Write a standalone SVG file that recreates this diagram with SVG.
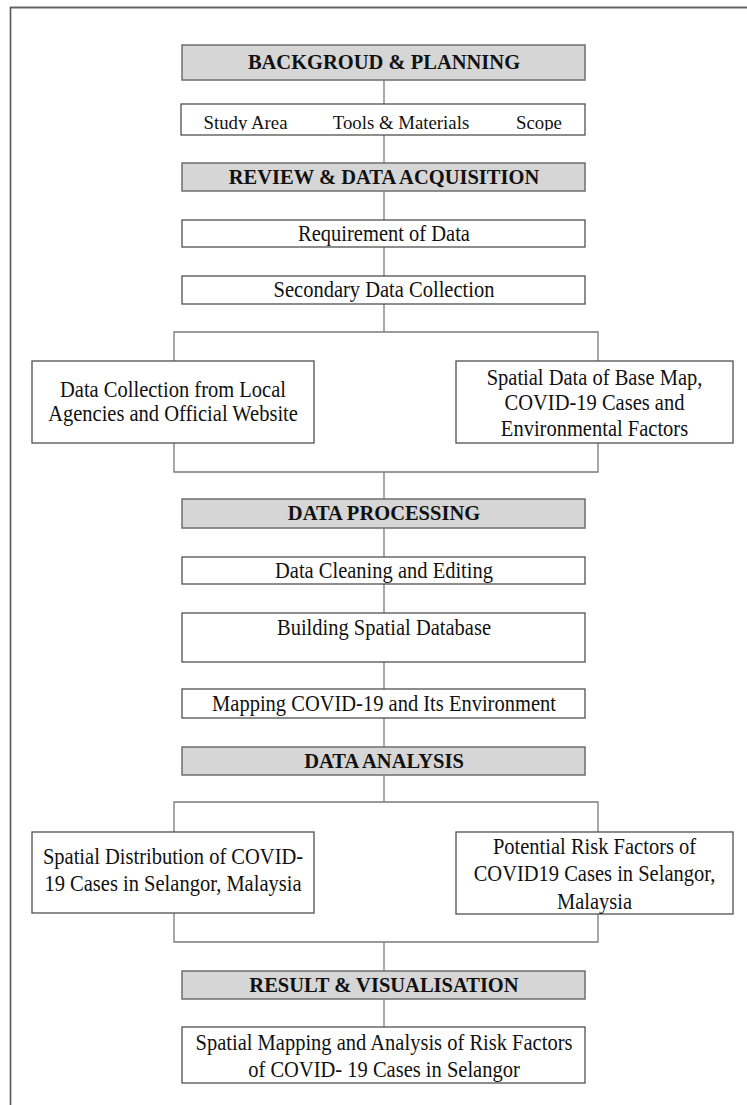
<svg xmlns="http://www.w3.org/2000/svg" width="747" height="1105" viewBox="0 0 747 1105">
<defs>
<style>
.hdr{fill:#d6d6d6;stroke:#6e6e6e;stroke-width:1.5}
.box{fill:#ffffff;stroke:#505050;stroke-width:1.3}
.ht{font-family:"Liberation Serif","Times New Roman",serif;font-weight:bold;font-size:20.5px;fill:#111;text-anchor:middle}
.bt{font-family:"Liberation Serif","Times New Roman",serif;font-size:22.3px;fill:#111;text-anchor:middle}
.st{font-family:"Liberation Serif","Times New Roman",serif;font-size:18.8px;fill:#111;text-anchor:middle}
.ln{stroke:#7a7a7a;stroke-width:1.3;fill:none}
</style>
<clipPath id="clipStudy"><rect x="181" y="105" width="403" height="25.5"/></clipPath>
</defs>
<rect x="0" y="0" width="747" height="1105" fill="#ffffff"/>
<g id="frame">
<line x1="10" y1="7.5" x2="747" y2="7.5" stroke="#666" stroke-width="2"/>
<line x1="10.5" y1="7" x2="10.5" y2="1105" stroke="#555" stroke-width="1.6"/>
</g>
<g id="connectors" class="ln">
<line x1="384" y1="80" x2="384" y2="104"/>
<line x1="384" y1="135" x2="384" y2="163"/>
<line x1="384" y1="191" x2="384" y2="220"/>
<line x1="384" y1="247" x2="384" y2="276"/>
<line x1="384" y1="304" x2="384" y2="332"/>
<polyline points="174,361 174,332 598,332 598,361"/>
<polyline points="174,443 174,472 598,472 598,443"/>
<line x1="384" y1="472" x2="384" y2="499"/>
<line x1="384" y1="528" x2="384" y2="557"/>
<line x1="384" y1="584" x2="384" y2="613"/>
<line x1="384" y1="662" x2="384" y2="689"/>
<line x1="384" y1="718" x2="384" y2="747"/>
<line x1="384" y1="775" x2="384" y2="802"/>
<polyline points="174,832 174,802 598,802 598,832"/>
<polyline points="174,913 174,942 598,942 598,914"/>
<line x1="384" y1="942" x2="384" y2="971"/>
<line x1="384" y1="999" x2="384" y2="1027"/>
</g>
<g id="n1">
<rect class="hdr" x="182" y="45" width="403" height="35"/>
<text class="ht" x="384" y="68.5">BACKGROUD &amp; PLANNING</text>
</g>
<g id="n2">
<rect class="box" x="181" y="104" width="404" height="31"/>
<g clip-path="url(#clipStudy)">
<text class="st" x="245.5" y="128.5">Study Area</text>
<text class="st" x="401" y="128.5">Tools &amp; Materials</text>
<text class="st" x="539" y="128.5">Scope</text>
</g>
</g>
<g id="n3">
<rect class="hdr" x="182" y="163" width="403" height="28"/>
<text class="ht" x="384" y="184">REVIEW &amp; DATA ACQUISITION</text>
</g>
<g id="n4">
<rect class="box" x="182" y="220" width="403" height="27"/>
<text class="bt" transform="translate(384,240.5) scale(0.92,1)">Requirement of Data</text>
</g>
<g id="n5">
<rect class="box" x="182" y="276" width="403" height="28"/>
<text class="bt" transform="translate(384,297) scale(0.92,1)">Secondary Data Collection</text>
</g>
<g id="n6">
<rect class="box" x="32" y="361" width="282" height="82"/>
<text class="bt" transform="translate(173,396.5) scale(0.92,1)">Data Collection from Local</text>
<text class="bt" transform="translate(173,421) scale(0.92,1)">Agencies and Official Website</text>
</g>
<g id="n7">
<rect class="box" x="456" y="361" width="277" height="82"/>
<text class="bt" transform="translate(594.5,384.5) scale(0.92,1)">Spatial Data of Base Map,</text>
<text class="bt" transform="translate(594.5,410) scale(0.92,1)">COVID-19 Cases and</text>
<text class="bt" transform="translate(594.5,436) scale(0.92,1)">Environmental Factors</text>
</g>
<g id="n8">
<rect class="hdr" x="182" y="499" width="403" height="29"/>
<text class="ht" x="384" y="520">DATA PROCESSING</text>
</g>
<g id="n9">
<rect class="box" x="182" y="557" width="403" height="27"/>
<text class="bt" transform="translate(384,577.5) scale(0.92,1)">Data Cleaning and Editing</text>
</g>
<g id="n10">
<rect class="box" x="182" y="613" width="403" height="49"/>
<text class="bt" transform="translate(384,634.5) scale(0.92,1)">Building Spatial Database</text>
</g>
<g id="n11">
<rect class="box" x="182" y="689" width="403" height="29"/>
<text class="bt" transform="translate(384,710.5) scale(0.92,1)">Mapping COVID-19 and Its Environment</text>
</g>
<g id="n12">
<rect class="hdr" x="182" y="747" width="403" height="28"/>
<text class="ht" x="384" y="768">DATA ANALYSIS</text>
</g>
<g id="n13">
<rect class="box" x="32" y="832" width="282" height="81"/>
<text class="bt" transform="translate(173,863.5) scale(0.92,1)">Spatial Distribution of COVID-</text>
<text class="bt" transform="translate(173,890.5) scale(0.92,1)">19 Cases in Selangor, Malaysia</text>
</g>
<g id="n14">
<rect class="box" x="456" y="832" width="277" height="82"/>
<text class="bt" transform="translate(594.5,853.5) scale(0.92,1)">Potential Risk Factors of</text>
<text class="bt" transform="translate(594.5,880.5) scale(0.92,1)">COVID19 Cases in Selangor,</text>
<text class="bt" transform="translate(594.5,908.5) scale(0.92,1)">Malaysia</text>
</g>
<g id="n15">
<rect class="hdr" x="182" y="971" width="403" height="28"/>
<text class="ht" x="384" y="992">RESULT &amp; VISUALISATION</text>
</g>
<g id="n16">
<rect class="box" x="182" y="1027" width="403" height="56"/>
<text class="bt" transform="translate(384,1049.5) scale(0.92,1)">Spatial Mapping and Analysis of Risk Factors</text>
<text class="bt" transform="translate(384,1076.5) scale(0.92,1)">of COVID- 19 Cases in Selangor</text>
</g>
</svg>
